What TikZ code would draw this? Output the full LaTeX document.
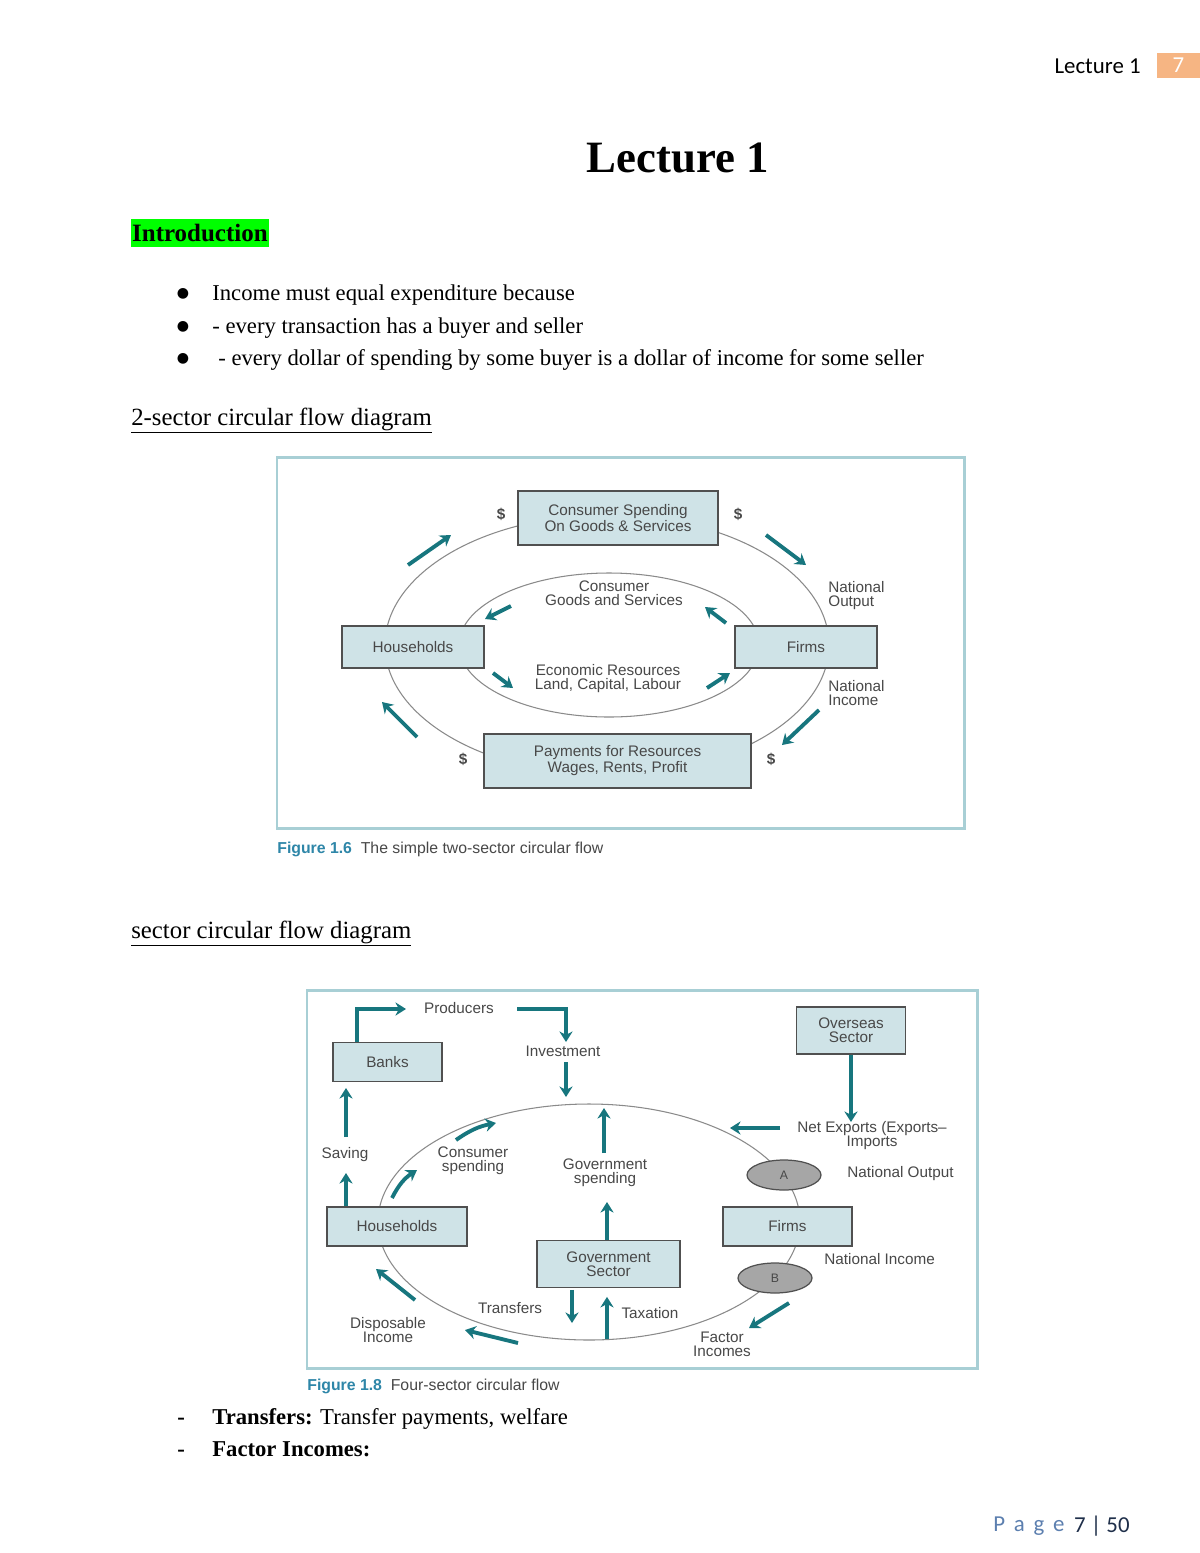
\documentclass[tikz,border=0pt]{standalone}
\usepackage{fontspec}
\setmainfont{Liberation Serif}
\setsansfont{Liberation Sans}
\newfontfamily\hdrfont{Carlito}
\newfontfamily\symfont{DejaVu Sans}
\usepackage{xcolor}
\usetikzlibrary{arrows.meta, positioning, shapes.geometric, calc}

\definecolor{flowteal}{HTML}{17767E}
\definecolor{boxfill}{HTML}{CFE3E7}
\definecolor{boxline}{HTML}{505050}
\definecolor{ringgray}{HTML}{8A8A8A}
\definecolor{framecol}{HTML}{A8CFD5}
\definecolor{figtext}{HTML}{484848}
\definecolor{capblue}{HTML}{2E86A8}
\definecolor{ovalgray}{HTML}{A6A6A6}
\definecolor{pageorange}{HTML}{F6B583}
\definecolor{pageblue}{HTML}{5C7FAF}
\definecolor{pagedark}{HTML}{1F2F4A}
\definecolor{hilite}{HTML}{00FF00}

\newcommand{\figfont}{\sffamily\fontsize{8.7}{8}\selectfont}
\newcommand{\bodyfont}{\fontsize{12.9}{15}\selectfont}
\newcommand{\headfont}{\fontsize{14.1}{16}\selectfont}

\begin{document}
\begin{tikzpicture}[x=0.02cm, y=-0.02cm, >={Stealth[length=6pt,width=7.5pt]}]
    \tikzset{
        sector/.style={rectangle, draw=boxline, fill=boxfill, line width=0.7pt, inner sep=0pt, align=center, font=\figfont, text=figtext},
        lbl/.style={font=\figfont, text=figtext, align=center, inner sep=0pt},
        dollar/.style={font=\figfont\bfseries, text=figtext, inner sep=0pt},
        flow/.style={draw=flowteal, line width=2.2pt, ->},
        ring/.style={draw=ringgray, line width=0.6pt},
        junction/.style={ellipse, draw=boxline, fill=ovalgray, line width=0.7pt, minimum width=1.48cm, minimum height=0.6cm, inner sep=0pt, font=\sffamily\fontsize{7}{8}\selectfont, text=figtext},
        figframe/.style={draw=framecol, line width=1.7pt},
        body/.style={anchor=base west, inner sep=0pt, font=\bodyfont},
        figcap/.style={anchor=west, inner sep=0pt, font=\sffamily\fontsize{9}{10}\selectfont, text=figtext}
    }
    \useasboundingbox (0,0) rectangle (1200,1553);
    \fill[white] (0,0) rectangle (1200,1553);

    % page header and footer
    \node[anchor=east, inner sep=0pt, font=\hdrfont\fontsize{13}{15}\selectfont] (hdr) at (1141,66) {Lecture 1};
    \node[fill=pageorange, text=white, minimum width=0.86cm, minimum height=0.5cm, inner sep=0pt, font=\hdrfont\fontsize{13}{15}\selectfont] (pgbox) at (1178.5,65.5) {7};
    \node[anchor=east, inner sep=0pt, text=pagedark, font=\hdrfont\fontsize{13}{15}\selectfont] (pgnum) at (1130,1526) {7 | 50};
    \node[left=5pt of pgnum, inner sep=0pt, text=pageblue, font=\hdrfont\fontsize{13}{15}\selectfont] (pgword) {P\hspace{5pt}a\hspace{5pt}g\hspace{5pt}e};

    % text
    \node[anchor=base, inner sep=0pt, font=\bfseries\fontsize{25.5}{30}\selectfont] (title) at (678,172) {Lecture 1};
    \node[anchor=west, fill=hilite, inner xsep=0.5pt, inner ysep=0pt, minimum height=0.56cm, font=\bfseries\fontsize{14.2}{16}\selectfont] (intro) at (131,233) {Introduction};
    \foreach \txt [count=\i] in {Income must equal expenditure because, - every transaction has a buyer and seller, \hspace{3.4pt}- every dollar of spending by some buyer is a dollar of income for some seller}{
        \node[body] (item\i) at (212, 268+32.5*\i) {\txt};
        \node[anchor=base, inner sep=0pt, font=\symfont\fontsize{8}{8}\selectfont] (dot\i) at (183, 265+32.5*\i) {●};
    }
    \node[body, font=\headfont] (sec2) at (131,425) {\underline{2-sector circular flow diagram}};
    \node[body, font=\headfont] (sec4) at (131,938) {\underline{sector circular flow diagram}};
    \node[body] (trans) at (212,1424) {\textbf{Transfers:} Transfer payments, welfare};
    \node[body] (facinc) at (212,1456) {\textbf{Factor Incomes:}};
    \node[body] (dash1) at (177,1424) {\textbf{-}};
    \node[body] (dash2) at (177,1456) {\textbf{-}};

    % two-sector flow
    \draw[figframe] (277,457) rectangle (964,828);
    \draw[ring] (607,645) ellipse [x radius=222, y radius=130];
    \draw[ring] (609,645) ellipse [x radius=150, y radius=72];
    \node[sector, minimum width=4cm, minimum height=1.08cm] (spend) at (618,518) {Consumer Spending\\On Goods \& Services};
    \node[sector, minimum width=2.84cm, minimum height=0.84cm] (house) at (413,647) {Households};
    \node[sector, minimum width=2.84cm, minimum height=0.84cm] (firms) at (806,647) {Firms};
    \node[sector, minimum width=5.34cm, minimum height=1.08cm] (pay) at (617.5,761) {Payments for Resources\\Wages, Rents, Profit};
    \node[lbl] (goods) at (614,593) {Consumer\\Goods and Services};
    \node[lbl] (res) at (608,679) {Economic Resources\\Land, Capital, Labour};
    \node[lbl, anchor=west, align=left] (natout) at (828,596) {National\\Output};
    \node[lbl, anchor=west, align=left] (natinc) at (828,693) {National\\Income};
    \node[dollar] (d1) at (501,514) {\$};
    \node[dollar] (d2) at (738,514) {\$};
    \node[dollar] (d3) at (463,759) {\$};
    \node[dollar] (d4) at (771,759) {\$};
    \foreach \nm/\ax/\ay/\bx/\by in {otl/408/565/451/535, otr/766/535/806/565, obr/819/710/782/745, obl/417/737/382/702,
                                     itl/511/606/485/619, itr/726/623/705/607, ibl/493/673/513/688, ibr/707/688/730/673}{
        \coordinate (\nm-a) at (\ax,\ay);
        \coordinate (\nm-b) at (\bx,\by);
        \draw[flow] (\nm-a) -- (\nm-b);
    }
    \node[figcap] (cap1) at (277,849) {\textcolor{capblue}{\textbf{Figure 1.6}}\hspace{5pt}The simple two-sector circular flow};

    % four-sector flow
    \draw[figframe] (307,990) rectangle (977,1368);
    \draw[ring] (589,1222) ellipse [x radius=211, y radius=118];
    \node[sector, minimum width=2.18cm, minimum height=0.78cm] (banks) at (387.5,1062) {Banks};
    \node[sector, minimum width=2.18cm, minimum height=0.94cm] (over) at (851,1030.5) {Overseas\\Sector};
    \node[sector, minimum width=2.8cm, minimum height=0.78cm] (house2) at (397,1226.5) {Households};
    \node[sector, minimum width=2.58cm, minimum height=0.78cm] (firms2) at (787.5,1226.5) {Firms};
    \node[sector, minimum width=2.86cm, minimum height=0.94cm] (gov) at (608.5,1264) {Government\\Sector};
    \node[junction] (ja) at (784,1175) {A};
    \node[junction] (jb) at (775,1278) {B};
    \node[lbl] (prod) at (459,1008) {Producers};
    \node[lbl] (inv) at (563,1051) {Investment};
    \node[lbl] (saving) at (345,1155) {Saving};
    \node[lbl] (cons) at (473,1161) {Consumer\\spending};
    \node[lbl] (gsp) at (605,1173) {Government\\spending};
    \node[lbl] (netexp) at (872,1136) {Net Exports (Exports--\\Imports};
    \node[lbl, anchor=west] (natout2) at (847,1174) {National Output};
    \node[lbl, anchor=west] (natinc2) at (824,1259) {National Income};
    \node[lbl] (transf) at (510,1308) {Transfers};
    \node[lbl] (tax) at (650,1313) {Taxation};
    \node[lbl] (disp) at (388,1330) {Disposable\\Income};
    \node[lbl] (factor) at (722,1344) {Factor\\Incomes};

    \coordinate (bankup) at (357,1009);
    \coordinate (prodin) at (406,1009);
    \coordinate (prodout) at (517,1009);
    \coordinate (invtop) at (566,1042);
    \draw[flow] (banks.north -| bankup) -- (bankup) -- (prodin);
    \draw[flow] (prodout) -| (invtop);
    \coordinate (savelow) at (346,1173);
    \draw[flow] (house2.north -| savelow) -- (savelow);
    \coordinate (gsplow) at (607,1202);
    \draw[flow] (gov.north -| gsplow) -- (gsplow);
    \coordinate (oversea) at (851,1122);
    \draw[flow] (over.south) -- (oversea);
    \coordinate (trend) at (572,1323);
    \draw[flow] ([yshift=-1pt]gov.south -| trend) -- (trend);
    \coordinate (taxstart) at (607,1339);
    \draw[flow, shorten >=5pt] (taxstart) -- (gov.south -| taxstart);
    \foreach \nm/\ax/\ay/\bx/\by in {invlow/566/1062/566/1097, gsphigh/604/1153/604/1108, savehigh/346/1137/346/1088,
                                     net/780/1128/730/1128, dispa/518/1343/465/1330, dispb/415/1300/376/1269, fac/789/1303/749/1328}{
        \coordinate (\nm-a) at (\ax,\ay);
        \coordinate (\nm-b) at (\bx,\by);
        \draw[flow] (\nm-a) -- (\nm-b);
    }
    \coordinate (consa-a) at (392,1198);
    \coordinate (consa-b) at (417,1170);
    \coordinate (consb-a) at (456,1140);
    \coordinate (consb-b) at (496,1123);
    \draw[flow] (consa-a) to[bend left=15] (consa-b);
    \draw[flow] (consb-a) to[bend left=12] (consb-b);
    \node[figcap] (cap2) at (307,1386) {\textcolor{capblue}{\textbf{Figure 1.8}}\hspace{5pt}Four-sector circular flow};
\end{tikzpicture}
\end{document}
